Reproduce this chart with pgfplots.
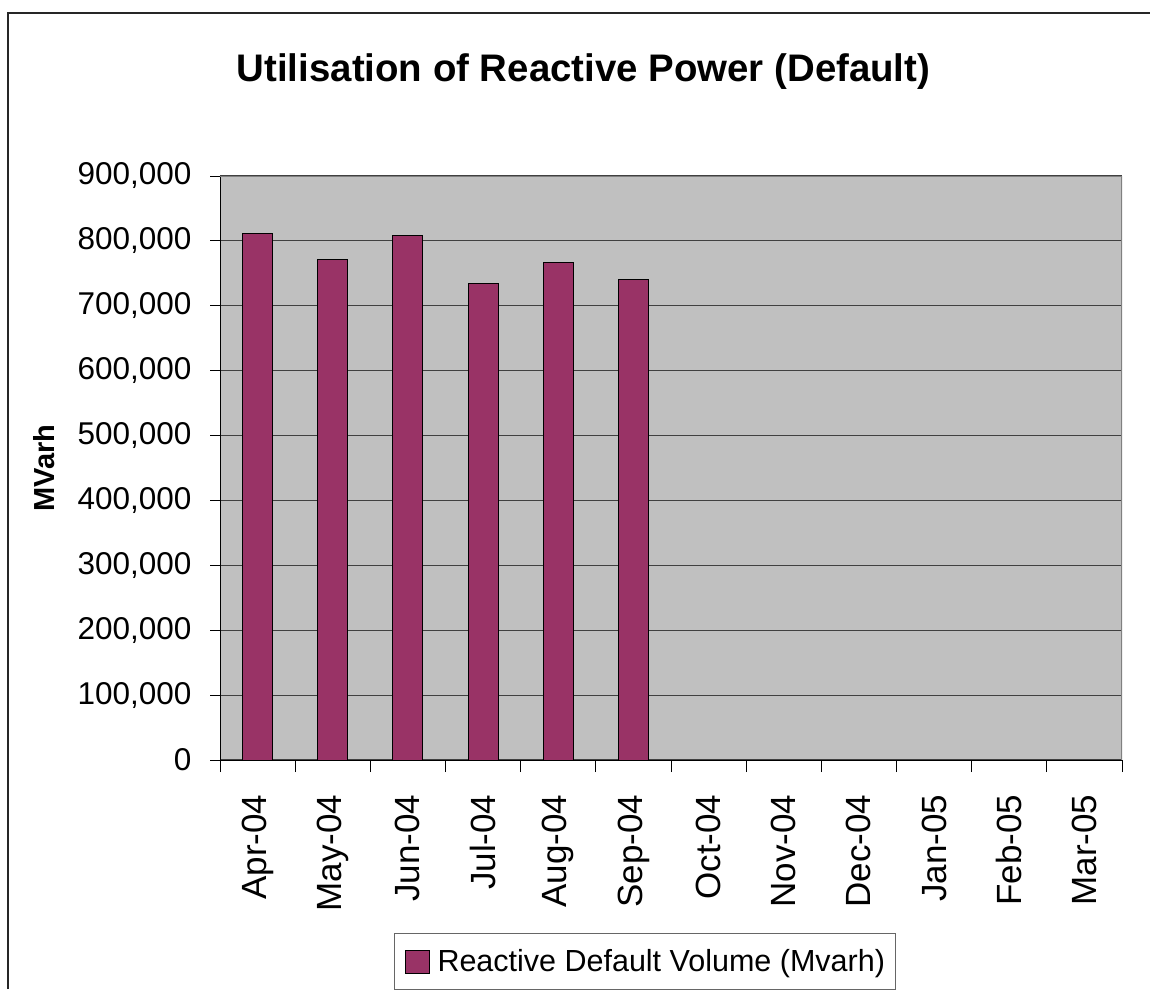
\documentclass[border=0pt]{standalone}
\usepackage{pgfplots}
\pgfplotsset{compat=1.18}
\usepackage{fontspec}
\setmainfont{Liberation Sans}
\definecolor{barcol}{HTML}{993366}
\definecolor{plotbg}{HTML}{C0C0C0}
\begin{document}
\begin{tikzpicture}
\useasboundingbox (0,0) rectangle (1150pt,989pt);
\draw[line width=2pt, black!85] (8pt,0) -- (8pt,976pt) -- (1152pt,976pt);
\begin{axis}[
  at={(220pt,229pt)}, anchor=south west,
  scale only axis, width=902pt, height=584pt,
  xmin=-0.5, xmax=11.5, ymin=0, ymax=900000,
  axis background/.style={fill=plotbg},
  axis x line*=bottom, axis y line*=left,
  axis line style={black, line width=1pt},
  xtick={0,...,11},
  xticklabels={Apr-04,May-04,Jun-04,Jul-04,Aug-04,Sep-04,Oct-04,Nov-04,Dec-04,Jan-05,Feb-05,Mar-05},
  minor xtick={-0.5,0.5,...,11.5},
  major x tick style={draw=none},
  minor x tick style={black, line width=1pt},
  minor tick length=12pt,
  xtick align=outside,
  x tick label style={rotate=90, anchor=east, font=\fontsize{35pt}{38pt}\selectfont, xshift=-21pt},
  ytick={0,100000,...,900000},
  ytick align=outside,
  major tick length=10pt,
  y tick style={black, line width=1pt},
  ymajorgrids,
  grid style={black!75, line width=1.2pt},
  scaled y ticks=false,
  y tick label style={font=\fontsize{31.5pt}{34pt}\selectfont, xshift=-15pt, /pgf/number format/.cd, fixed, 1000 sep={,}, assume math mode=true},
  ylabel={\textbf{MVarh}},
  every axis y label/.style={at={(rel axis cs:0,0.5)}, xshift=-176pt, rotate=90, anchor=center, font=\fontsize{29pt}{32pt}\selectfont},
  legend style={at={(rel axis cs:0.1929,-0.2962)}, anchor=north west, draw=black!60, line width=1pt, font=\fontsize{30.5pt}{33pt}\selectfont, inner xsep=8pt, inner ysep=14pt},
  legend image code/.code={\path[draw=none, fill=none] (-3pt,0) -- (30pt,0); \draw[fill=barcol, draw=black, line width=1pt] (0pt,-12pt) rectangle (24pt,11pt);},
  legend cell align=left,
]
\addplot[ybar, bar width=0.4, fill=barcol, draw=black, line width=1pt] coordinates {
 (0,811500) (1,771500) (2,809000) (3,733700) (4,766000) (5,740400)
};
\addlegendentry{Reactive Default Volume (Mvarh)}
\draw[black!50, line width=1.5pt] (rel axis cs:0,1) -- (rel axis cs:1,1) -- (rel axis cs:1,0);
\end{axis}
\node[font=\fontsize{38.4pt}{42pt}\selectfont\bfseries] at (583.5pt,917pt) {Utilisation of Reactive Power (Default)};
\end{tikzpicture}
\end{document}
